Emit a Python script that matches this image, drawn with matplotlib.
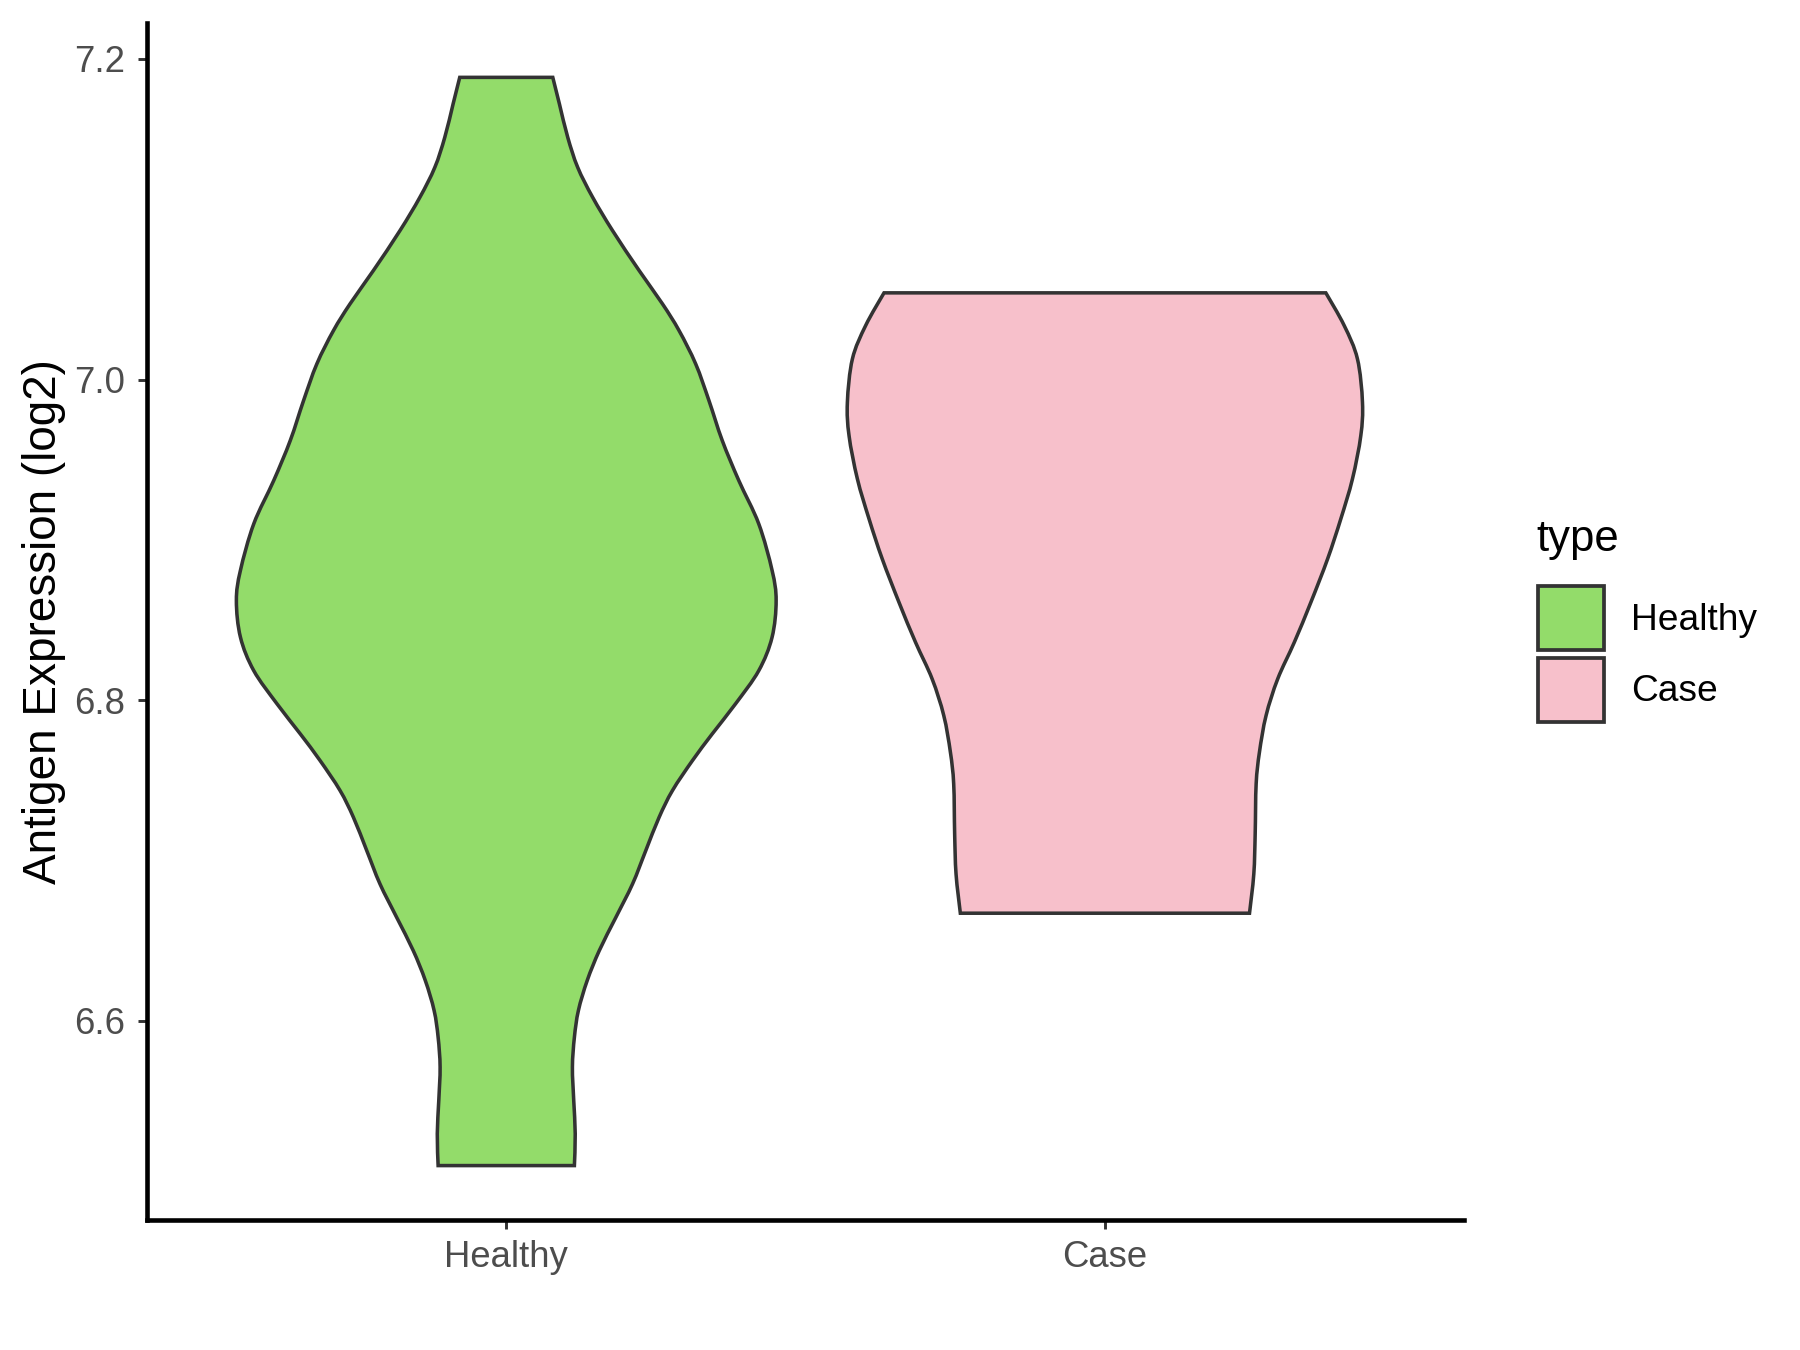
import numpy as np
import matplotlib.pyplot as plt
from matplotlib.patches import Patch, PathPatch
from matplotlib.path import Path

plt.rcParams["font.family"] = ["Liberation Sans", "DejaVu Sans"]

categories = ["Healthy", "Case"]
colors = ["#93DC6A", "#F7C0CB"]

# violin outlines: expression level and half width (in category units)
healthy_y = [7.1885, 7.1719, 7.1511, 7.1324, 7.1137, 7.0929, 7.068, 7.0472, 7.0306,
             7.0098, 6.9869, 6.962, 6.937, 6.91, 6.8809, 6.8622, 6.8393, 6.8185,
             6.7978, 6.779, 6.7624, 6.7437, 6.727, 6.7063, 6.6855, 6.6647, 6.6439,
             6.6252, 6.6065, 6.5898, 6.5712, 6.5504, 6.5296, 6.5098]
healthy_hw = [0.0777, 0.0888, 0.1027, 0.1193, 0.1443, 0.1776, 0.222, 0.261, 0.2886,
              0.3164, 0.3386, 0.3608, 0.3885, 0.4218, 0.4441, 0.4508, 0.444, 0.4218,
              0.383, 0.344, 0.311, 0.2776, 0.2553, 0.2331, 0.211, 0.1832, 0.1554,
              0.1352, 0.1205, 0.1138, 0.1105, 0.1127, 0.1152, 0.1138]

case_y = [7.0541, 7.0337, 7.0129, 6.9858, 6.965, 6.9381, 6.9131, 6.8882, 6.8611,
          6.8362, 6.8133, 6.7905, 6.7676, 6.7478, 6.7167, 6.6917, 6.6672]
case_hw = [0.369, 0.3997, 0.4218, 0.4302, 0.4274, 0.4135, 0.394, 0.372, 0.344,
           0.3164, 0.2886, 0.2692, 0.2581, 0.2526, 0.251, 0.2487, 0.2415]

profiles = [(healthy_y, healthy_hw), (case_y, case_hw)]


def smooth_side(pts):
    # catmull-rom through the read points, drawn as cubic bezier pieces
    verts, codes = [], []
    n = len(pts)
    for i in range(n - 1):
        p0 = pts[max(i - 1, 0)]
        p1 = pts[i]
        p2 = pts[i + 1]
        p3 = pts[min(i + 2, n - 1)]
        verts += [p1 + (p2 - p0) / 6, p2 - (p3 - p1) / 6, p2]
        codes += [Path.CURVE4] * 3
    return verts, codes


fig = plt.figure(figsize=(12, 9), dpi=150)
ax = fig.add_axes([0.0817, 0.0963, 0.7317, 0.8867])

for i, (yy, hw) in enumerate(profiles):
    yy = np.array(yy)
    hw = np.array(hw)
    pos = i + 1
    right = np.column_stack([pos + hw, yy])
    left = np.column_stack([pos - hw, yy])[::-1]
    verts, codes = [right[0]], [Path.MOVETO]
    v, c = smooth_side(right)
    verts += v
    codes += c
    verts.append(left[0])
    codes.append(Path.LINETO)
    v, c = smooth_side(left)
    verts += v
    codes += c
    verts.append(right[0])
    codes.append(Path.CLOSEPOLY)
    ax.add_patch(PathPatch(Path(verts, codes), facecolor=colors[i],
                           edgecolor="#333333", linewidth=1.7, joinstyle="miter"))

lo = min(min(healthy_y), min(case_y))
hi = max(max(healthy_y), max(case_y))
pad = 0.05 * (hi - lo)
ax.set_ylim(lo - pad, hi + pad)
ax.set_xlim(0.4, 2.6)

ax.set_xticks([1, 2])
ax.set_xticklabels(categories)
ax.set_yticks([6.6, 6.8, 7.0, 7.2])
ax.set_yticklabels(["6.6", "6.8", "7.0", "7.2"])

for s in ["top", "right"]:
    ax.spines[s].set_visible(False)
for s in ["left", "bottom"]:
    ax.spines[s].set_linewidth(2.2)
    ax.spines[s].set_color("black")

ax.tick_params(axis="both", length=4.4, width=1.4, color="#333333",
               labelcolor="#4D4D4D", labelsize=17.5)
ax.tick_params(axis="x", pad=5)
ax.tick_params(axis="y", pad=6)

ax.set_ylabel("Antigen Expression (log2)", fontsize=22, color="black")
ax.yaxis.set_label_coords(-0.0615, 0.5)

handles = [Patch(facecolor=c, edgecolor="#333333", linewidth=1.8) for c in colors]
fig.legend(handles, categories, loc="center left", bbox_to_anchor=(0.8544, 0.5156),
           frameon=False, fontsize=17.8, handlelength=1.77, handleheight=2.29,
           labelspacing=0.2, handletextpad=0.75, borderpad=0, borderaxespad=0)
fig.text(0.8533, 0.6003, "type", fontsize=21, ha="left", va="center")

fig.savefig("out.png", dpi=150)
